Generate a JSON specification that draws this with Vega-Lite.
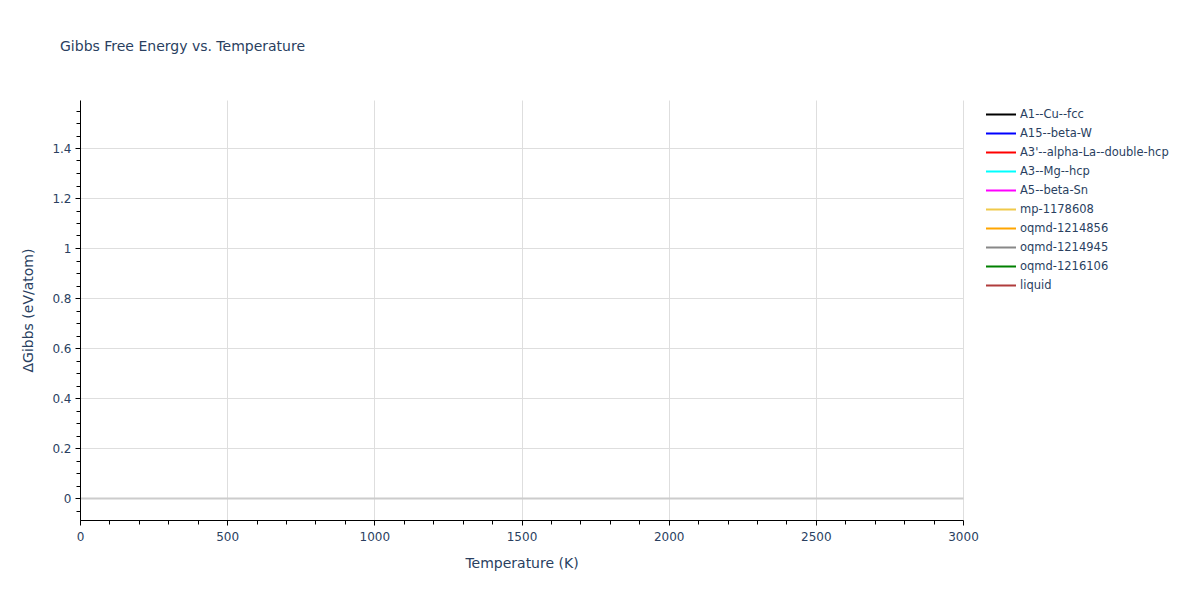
{
  "$schema": "https://vega.github.io/schema/vega-lite/v6.json",
  "width": 883,
  "height": 420,
  "autosize": {"type": "none"},
  "padding": {"left": 80, "top": 100, "right": 237, "bottom": 80},
  "background": "white",
  "config": {
    "font": "DejaVu Sans",
    "view": {"stroke": null},
    "axis": {"labelColor": "#2a3f5f", "titleColor": "#2a3f5f", "labelFontSize": 12, "titleFontSize": 14, "titleFontWeight": "normal", "domainColor": "#000000", "tickColor": "#000000", "labelFlush": false}
  },
  "title": {
    "text": "Gibbs Free Energy vs. Temperature",
    "anchor": "start",
    "frame": "group",
    "dx": -20,
    "offset": 46,
    "fontSize": 14,
    "fontWeight": "normal",
    "color": "#2a3f5f"
  },
  "data": {
    "values": [
      {"phase": "A1--Cu--fcc", "T": 0, "dG": null},
      {"phase": "A15--beta-W", "T": 0, "dG": null},
      {"phase": "A3'--alpha-La--double-hcp", "T": 0, "dG": null},
      {"phase": "A3--Mg--hcp", "T": 0, "dG": null},
      {"phase": "A5--beta-Sn", "T": 0, "dG": null},
      {"phase": "mp-1178608", "T": 0, "dG": null},
      {"phase": "oqmd-1214856", "T": 0, "dG": null},
      {"phase": "oqmd-1214945", "T": 0, "dG": null},
      {"phase": "oqmd-1216106", "T": 0, "dG": null},
      {"phase": "liquid", "T": 0, "dG": null}
    ]
  },
  "resolve": {"axis": {"x": "independent", "y": "independent"}},
  "layer": [
    {
      "mark": {"type": "rule"},
      "encoding": {
        "x": {
          "field": "T", "type": "quantitative",
          "scale": {"domain": [0, 3000], "nice": false, "zero": false},
          "axis": {"orient": "bottom", "values": [0,100,200,300,400,600,700,800,900,1100,1200,1300,1400,1600,1700,1800,1900,2100,2200,2300,2400,2600,2700,2800,2900], "labels": false, "grid": false, "domain": false, "tickSize": 4, "title": null}
        },
        "y": {
          "field": "dG", "type": "quantitative",
          "scale": {"domain": [-0.088, 1.592], "nice": false, "zero": false},
          "axis": {"orient": "left", "values": [-0.05,0.05,0.1,0.15,0.25,0.3,0.35,0.45,0.5,0.55,0.65,0.7,0.75,0.85,0.9,0.95,1.05,1.1,1.15,1.25,1.3,1.35,1.45,1.5,1.55], "labels": false, "grid": false, "domain": false, "tickSize": 4, "title": null}
        }
      }
    },
    {
      "mark": {"type": "line", "strokeWidth": 2},
      "encoding": {
        "x": {
          "field": "T", "type": "quantitative",
          "scale": {"domain": [0, 3000], "nice": false, "zero": false},
          "axis": {
            "orient": "bottom", "title": "Temperature (K)", "values": [0, 500, 1000, 1500, 2000, 2500, 3000], "format": "d",
            "tickSize": 5, "labelPadding": 6, "titlePadding": 14,
            "grid": true, "gridColor": "#dedede", "gridWidth": 1
          }
        },
        "y": {
          "field": "dG", "type": "quantitative",
          "scale": {"domain": [-0.088, 1.592], "nice": false, "zero": false},
          "axis": {
            "orient": "left", "title": "ΔGibbs (eV/atom)", "values": [0, 0.2, 0.4, 0.6, 0.8, 1, 1.2, 1.4], "format": "~g",
            "tickSize": 5, "labelPadding": 4, "titlePadding": 16,
            "grid": true,
            "gridColor": {"condition": {"test": "datum.value === 0", "value": "#cccccc"}, "value": "#dedede"},
            "gridWidth": {"condition": {"test": "datum.value === 0", "value": 2}, "value": 1}
          }
        },
        "color": {
          "field": "phase", "type": "nominal",
          "scale": {
            "domain": ["A1--Cu--fcc", "A15--beta-W", "A3'--alpha-La--double-hcp", "A3--Mg--hcp", "A5--beta-Sn", "mp-1178608", "oqmd-1214856", "oqmd-1214945", "oqmd-1216106", "liquid"],
            "range": ["#000000", "#0000ff", "#ff0000", "#00ffff", "#ff00ff", "#f0c94a", "#ffa500", "#888888", "#008000", "#b03c3c"]
          },
          "legend": {
            "title": null, "orient": "none", "legendX": 905, "legendY": 5,
            "symbolType": "stroke", "symbolSize": 900, "symbolStrokeWidth": 2, "clipHeight": 19,
            "labelFontSize": 11.5, "labelColor": "#2a3f5f", "rowPadding": 0, "labelOffset": 3
          }
        }
      }
    }
  ]
}
